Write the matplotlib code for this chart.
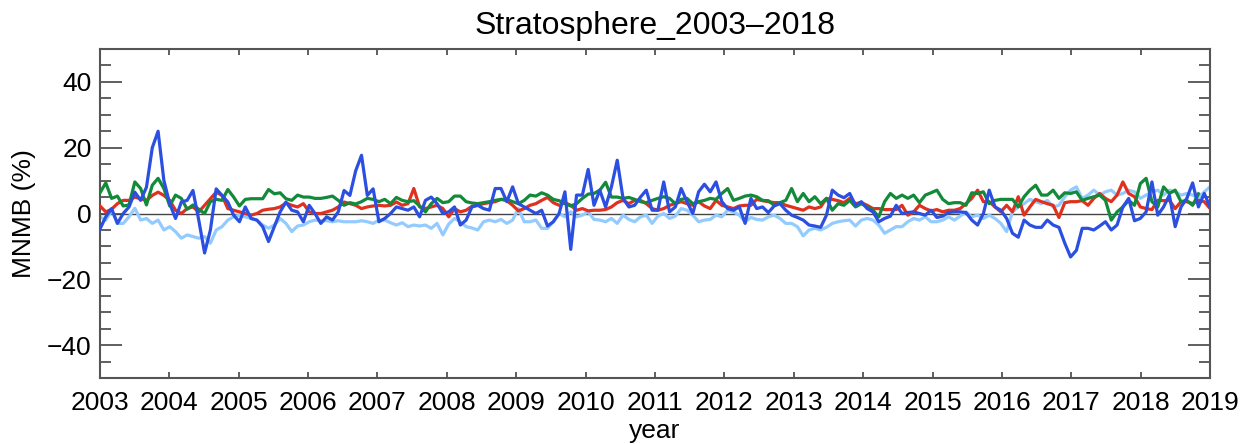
import numpy as np
import matplotlib.pyplot as plt
from matplotlib.ticker import MultipleLocator

plt.rcParams['font.family'] = ['Liberation Sans', 'DejaVu Sans']

# Monthly MNMB (%) values, Jan 2003 - Dec 2018
dark_blue = [
    -4.7, -1, 1.5, -3, 0, 2, 6.5, 4, 8, 20, 25, 10,
    3, -1.5, 3.5, 4, 7, -2, -12, -5, 7.5, 5.5, 3.5, -0.5,
    -2.5, 2, -1.5, -2, -4, -8.5, -4, 0.5, 3.5, 1, 0.5, -2.5,
    2.5, 0, -3, -1, -2, 0.5, 7, 5.5, 13, 17.7, 5.5, 7.5,
    -2.5, -1.5, 0, 2, 1.5, 1, 2, -1, 4, 5, 3, 0,
    0.5, 2, -3.5, -2, 2, 2.5, 1.5, 1, 7.6, 7.6, 3.6, 8.1,
    3, 2, 1, 0, 1, -3.8, -2.5, 0, 6.6, -10.9, 5.6, 5.6,
    13.4, 2.5, 7.1, 2, 8.1, 16.2, 4.6, 2, 2.5, 5, 7.1, 1,
    1, 9.6, 0.5, 2, 7.6, 3.6, 0, 6.6, 8.9, 6.6, 9.6, 3.6,
    1.5, 1, 2, -3, 4.6, 1.5, 2, 0.3, 2.3, 3, 1, -0.5,
    -1.2, -2, -3.5, -3.8, -4.2, -0.5, 7.1, 5.6, 4.8, 6.1, 2.5, 3.6,
    1.5, 0.5, -2.5, -1.5, -0.8, 2.5, 0, 0.3, 0.5, 0, -0.5, 1,
    -1.2, -0.8, 0.3, 0.5, 0.5, 0.3, -2, -3.5, 0, 7.1, 2, 1,
    -1.5, -6, -7.2, -2, -3.5, -4.2, -4.2, -2, -3.5, -4.2, -9, -13.2,
    -11.2, -4.5, -4.5, -5, -3.8, -2.5, -5, -3.5, 2, 4.6, -2.2, -1.5,
    0.5, 9.6, -0.5, 2, 5.6, -4, 2, 4.6, 9.3, 2, 6.1, 2,
]
light_blue = [
    -1, -2, 1, -3, -3, -1, 1.6, -2, -1.5, -3, -2, -5,
    -4, -5.5, -7.5, -6.5, -7, -7.5, -7, -9, -5, -4, -2, -1,
    -0.5, -1, -1.5, -2, -3.5, -4.5, -3.5, -1.5, -3, -5.5, -3.8, -3.5,
    -2.5, -2, -2.2, -2.2, -2.5, -2.2, -2.5, -2.5, -2.5, -2.2, -2.5, -3,
    -2, -2, -2.8, -3.5, -2.8, -4, -3.5, -3.8, -3.5, -4.5, -3, -6.5,
    -3.2, -1.5, -2.5, -4, -4.4, -5, -2.5, -2, -2.5, -1.8, -3, -2,
    1.5, -2.5, -2.5, -2, -4.5, -4.5, -2.5, 0, -1, 0.5, -1, -0.5,
    0.5, -1.8, -2, -2.5, -1.5, -3, -0.5, -1.8, -2.5, -1, -0.5, -3,
    -0.8, 0, -1.5, -0.8, 1.5, 1, -0.5, -2.5, -2, -1.8, -0.5, -1,
    1, 0.5, -0.5, -2.5, -1.2, -1.8, -2, -1, -0.5, -1.5, -3, -3,
    -4, -6.8, -5, -4.5, -5, -4.2, -3, -2.5, -2.2, -2, -3.8, -2,
    -1.5, -2, -3.5, -6, -5, -4, -4, -2.5, -1.5, -2, -1, -2.5,
    -2.5, -2, -1, -2, -0.8, 0.5, -1, -0.5, -1.5, -0.5, -1.5, -3,
    -5.5, 0.5, 2, 3, 4.3, 3.6, 3, 4, 2, 2.5, 5.1, 7.1,
    8.1, 4.6, 5.6, 7.1, 5.6, 6.6, 7.1, 5.6, 6.1, 7.1, 6.6, 4.6,
    5.6, 6.6, 7.1, 5.6, 7.1, 6.6, 5.6, 6.1, 5.6, 4.6, 6.6, 8.1,
]
red = [
    2.3, 0.5, 1.3, 3, 4, 4, 5, 4.5, 4, 5.5, 6.5, 5.5,
    4, 1, 0, 1.5, 2, 0.5, 2.5, 4.5, 6.5, 5.5, 1.5, 1,
    0.5, 0, -0.5, 0, 1, 1.3, 1.5, 2, 3.2, 2.5, 2, 3,
    0.5, 0, 0, 0.5, 1, 2, 3.5, 3, 2.5, 1.5, 2, 2.3,
    2.5, 2.3, 2.5, 3.5, 2.5, 3, 7.6, 2, 1.5, 2, 2.5, 1.5,
    -1, 1.5, 0.5, 1, 2.2, 2.5, 3, 3.3, 3.6, 4.3, 3.9, 2.5,
    0.8, 1.5, 2.5, 3, 4, 4.9, 3.3, 2.5, 3.3, 2.5, 1, 1.5,
    0.8, 1, 1, 1.2, 2, 3.3, 4, 3, 4, 4, 3, 1.5,
    1, 1.5, 2.5, 3, 3.6, 3, 2.5, 3.6, 2.3, 1.5, 4, 2.5,
    2, 1.5, 2.3, 2.5, 2.5, 4.3, 3.9, 3.6, 3.3, 3.3, 2.5, 2,
    1.5, 1, 2, 1.5, 2, 4.6, 4.3, 3.9, 3.3, 4.6, 3, 3.3,
    2.5, 1.5, 1.5, 1.2, 1.2, 1.2, 2.5, -0.5, 0.5, 2.5, 1.5, 0.8,
    1.2, 0.5, 1, 1, 1.5, 3, 4.6, 7.1, 3.6, 3.6, 2, 0.5,
    2.5, 0.5, 5.1, -0.5, 2, 4.3, 3.6, 3, 2.5, -1.2, 3.3, 3.6,
    3.6, 3.9, 2.5, 4.6, 6.1, 4.6, 3.6, 5.6, 9.6, 6.1, 5.1, 2,
    1.5, 1.2, 4, 3.9, 4, 1.5, 3.6, 3.6, 3, 4, 3.6, 1.5,
]
green = [
    6.3, 9.3, 4.6, 5.3, 2.3, 2.6, 9.6, 7.6, 2.6, 8.6, 10.7, 7.6,
    2.3, 5.6, 4.6, 1.3, 2.6, 1.3, 0, 3.6, 4.3, 4, 7.3, 5,
    2.3, 4.3, 4.5, 4.5, 4.5, 7.3, 6, 6.3, 4.5, 4, 5.6, 5,
    5, 4.6, 4.6, 4.9, 5.3, 4, 2.5, 3.3, 2.9, 3.6, 4.6, 4.3,
    3.6, 4.3, 3, 4.9, 4, 3.6, 3.9, 2.3, 0.5, 3, 4.6, 3.3,
    3.6, 5.3, 5.3, 3.6, 3.2, 3, 3.3, 3.6, 4, 4.3, 4.3, 3.6,
    3, 4, 5.6, 5.3, 6.3, 5.6, 4.3, 3.9, 3, 2.3, 3, 4.6,
    5.9, 6.1, 7.1, 9.5, 5, 5, 4.6, 4.9, 4.3, 3.6, 3.3, 4,
    4.6, 5.1, 4.6, 3, 4.3, 4.6, 3, 3.6, 4, 4.6, 4.3, 6.1,
    7.6, 4, 4.6, 5.3, 5.6, 5.1, 4, 3.9, 2.5, 3.3, 4, 7.6,
    3.6, 6.1, 3.6, 5.1, 3, 4.6, 1, 3, 2.5, 4, 2, 3,
    2, 1, -1, 3.6, 6.1, 4.6, 5.6, 4.6, 5.6, 3.3, 5.6, 6.3,
    7.1, 4.3, 3, 3.3, 3.3, 2.5, 6.3, 6.1, 6.6, 3, 4, 4.3,
    4.3, 4.3, 2, 5.1, 7.1, 8.6, 5.6, 5.6, 7.1, 4.6, 6.3, 6.1,
    6.6, 4, 4.6, 5.1, 5.6, 4, -2, 0.5, 2, 4, 2.5, 9.1,
    10.7, 3.6, 2, 8.1, 6.1, 7.1, 3.6, 4, 2.5, 6, np.nan, np.nan,
]

years = np.linspace(2003, 2019, len(red))

fig = plt.figure(figsize=(12.48, 4.44), dpi=100)
ax = fig.add_axes([0.0801, 0.1486, 0.8895, 0.741])

ax.axhline(0, color='#444444', lw=1.0, zorder=1)
ax.plot(years, light_blue, color='#93cbff', lw=2.3, zorder=2)
ax.plot(years, red, color='#e0301e', lw=2.3, zorder=3)
ax.plot(years, green, color='#138a3a', lw=2.3, zorder=4)
ax.plot(years, dark_blue, color='#2b4fe0', lw=2.3, zorder=5)

ax.set_xlim(2003, 2019)
ax.set_ylim(-50, 50)
ax.set_xticks(range(2003, 2020))
ax.yaxis.set_major_locator(MultipleLocator(20))
ax.yaxis.set_minor_locator(MultipleLocator(5))

ax.tick_params(axis='both', which='both', direction='in', top=True, right=True,
               color='#444444', labelsize=19)
ax.tick_params(axis='y', which='major', length=16, width=1.2, pad=6)
ax.tick_params(axis='y', which='minor', length=8, width=1.2)
ax.tick_params(axis='x', which='major', length=4.5, width=1.2, pad=9)
for s in ax.spines.values():
    s.set_color('#555555')
    s.set_linewidth(1.5)

ax.set_title('Stratosphere_2003\u20132018', fontsize=23, pad=11)
ax.set_ylabel('MNMB (%)', fontsize=19, labelpad=8)
ax.set_xlabel('year', fontsize=19, labelpad=3)

plt.savefig('out.png', dpi=100)
